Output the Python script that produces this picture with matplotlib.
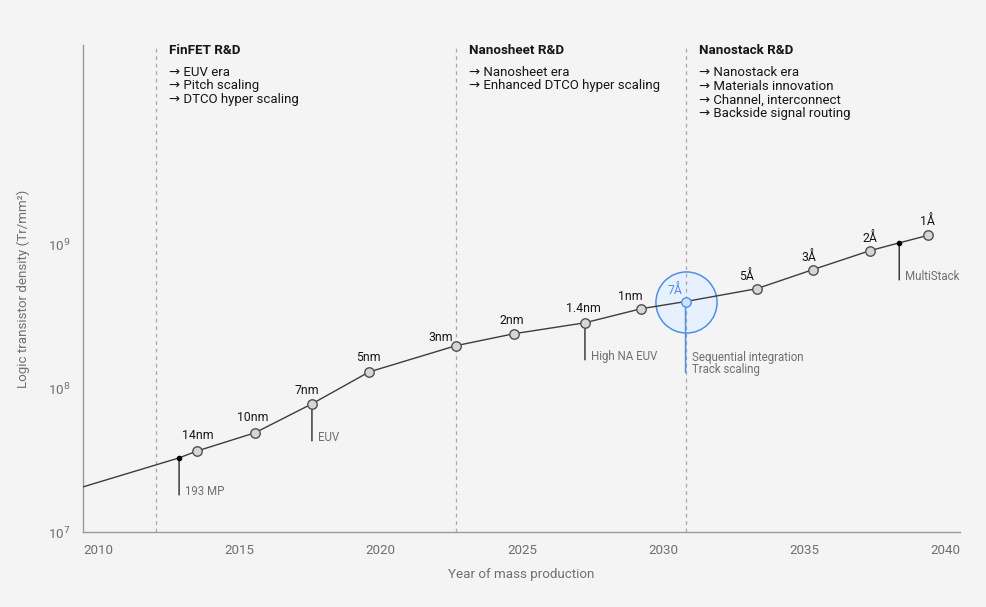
import matplotlib
matplotlib.use("Agg")
import matplotlib.pyplot as plt
from matplotlib.ticker import FixedLocator, NullLocator
from matplotlib.transforms import blended_transform_factory

plt.rcParams['font.family'] = ['Roboto', 'DejaVu Sans']

# ---------------- data ----------------
node_labels = ["14nm", "10nm", "7nm", "5nm", "3nm", "2nm", "1.4nm", "1nm",
               "7Å", "5Å", "3Å", "2Å", "1Å"]
node_years = [2013.50, 2015.55, 2017.57, 2019.59, 2022.66, 2024.72, 2027.23,
              2029.21, 2030.79, 2033.31, 2035.29, 2037.31, 2039.36]
node_density = [3.66e7, 4.9e7, 7.8e7, 1.30e8, 1.98e8, 2.40e8, 2.86e8,
                3.58e8, 4.02e8, 4.94e8, 6.7e8, 9.08e8, 1.16e9]

# milestones on the trend line (not nodes)
milestone_labels = ["193 MP", "MultiStack"]
milestone_years = [2012.87, 2038.35]
milestone_density = [3.28e7, 1.03e9]

# start of the trend line (left edge)
start_year = [2009.47]
start_density = [2.06e7]

# callouts hanging below points
callout_texts = ["193 MP", "EUV", "High NA EUV", "Sequential integration\nTrack scaling", "MultiStack"]
callout_years = [2012.87, 2017.57, 2027.23, 2030.79, 2038.35]
callout_density = [3.28e7, 7.8e7, 2.86e8, 4.02e8, 1.03e9]

# R&D eras
era_years = [2012.05, 2022.66, 2030.79]
era_titles = ["FinFET R&D", "Nanosheet R&D", "Nanostack R&D"]
era_items = [
    ["EUV era", "Pitch scaling", "DTCO hyper scaling"],
    ["Nanosheet era", "Enhanced DTCO hyper scaling"],
    ["Nanostack era", "Materials innovation", "Channel, interconnect", "Backside signal routing"],
]

x_ticks = [2010, 2015, 2020, 2025, 2030, 2035, 2040]
y_ticks = [1e7, 1e8, 1e9]
y_tick_labels = ["10$^7$", "10$^8$", "10$^9$"]

# ---------------- style ----------------
BG = "#f4f4f4"
DARK = "#161616"
GRAY = "#6f6f6f"
LINE = "#3d3d3d"
BLUE = "#4f8fe6"
BLUE_FILL = "#e6f1fd"

# label offsets in pixels (dx, dy)
label_offsets = {
    "14nm": (1, 16), "10nm": (-2, 15), "7nm": (-5, 13), "5nm": (-1, 14),
    "3nm": (-15, 8), "2nm": (-2, 13), "1.4nm": (-2, 14), "1nm": (-11, 12),
    "7Å": (-11, 11), "5Å": (-10, 12), "3Å": (-4, 12), "2Å": (0, 12), "1Å": (0, 14),
}
callout_len = [37, 37, 37, 71, 37]
callout_text_top = [27, 27, 27, 49, 27]

fig = plt.figure(figsize=(9.86, 6.07), dpi=100, facecolor=BG)
ax = fig.add_axes([83 / 986, 75 / 607, 877 / 986, 487 / 607], facecolor=BG)

ax.set_yscale("log")
ax.set_xlim(2009.47, 2040.5)
ax.set_ylim(1e7, 10 ** 10.39)

# era dashed lines
for x in era_years:
    ax.axvline(x, color="#a8a8a8", lw=0.9, ls=(0, (3, 3)), zorder=1)

# highlight circle around 7Å
i7 = node_labels.index("7Å")
ax.scatter([node_years[i7]], [node_density[i7]], s=44 ** 2, facecolor=BLUE_FILL,
           edgecolor=BLUE, linewidth=1.1, zorder=0.5)

# trend line
line_pts = sorted(zip(start_year + milestone_years + node_years,
                      start_density + milestone_density + node_density))
ax.plot([p[0] for p in line_pts], [p[1] for p in line_pts], color=LINE, lw=1.0,
        zorder=3, solid_capstyle="butt")

# milestone dots
ax.plot(milestone_years, milestone_density, "o", ms=3, color="#000000", zorder=4)

# node markers
for lab, x, y in zip(node_labels, node_years, node_density):
    is7 = lab == "7Å"
    ax.plot([x], [y], "o", ms=6.8, mfc=("#cfe2fb" if is7 else "#d6d6d6"),
            mec=(BLUE if is7 else "#505050"), mew=1.0, zorder=5)
    dx, dy = label_offsets[lab]
    ax.annotate(lab, (x, y), xytext=(dx, dy), textcoords="offset pixels",
                ha="center", va="center", fontsize=8.8,
                color=(BLUE if is7 else DARK), zorder=6)

# callouts
for txt, x, y, L, T in zip(callout_texts, callout_years, callout_density,
                           callout_len, callout_text_top):
    is7 = txt.startswith("Sequential")
    col = BLUE if is7 else "#3d3d3d"
    ax.annotate("", (x, y), xytext=(0, -L), textcoords="offset pixels",
                arrowprops=dict(arrowstyle="-", color=col, lw=1.1,
                                shrinkA=0, shrinkB=0), zorder=2)
    ax.annotate(txt, (x, y), xytext=(6, -T), textcoords="offset pixels",
                ha="left", va="top", fontsize=8.3, color=GRAY,
                linespacing=0.95, zorder=6)

# era headers
trans = blended_transform_factory(ax.transData, ax.transAxes)
for x, title, items in zip(era_years, era_titles, era_items):
    ax.annotate(title, (x, 1.0), xycoords=trans, xytext=(13, -5),
                textcoords="offset pixels", ha="left", va="center",
                fontsize=9.6, fontweight="bold", color=DARK)
    for k, it in enumerate(items):
        ax.annotate("→ " + it, (x, 1.0), xycoords=trans,
                    xytext=(13, -27 - 14 * k), textcoords="offset pixels",
                    ha="left", va="center", fontsize=9.5, color=DARK)

# axes styling
for s in ["top", "right"]:
    ax.spines[s].set_visible(False)
for s in ["left", "bottom"]:
    ax.spines[s].set_color("#9a9a9a")
    ax.spines[s].set_linewidth(1.0)

ax.xaxis.set_major_locator(FixedLocator(x_ticks))
ax.set_xticklabels([str(t) for t in x_ticks])
ax.yaxis.set_major_locator(FixedLocator(y_ticks))
ax.set_yticklabels(y_tick_labels)
ax.yaxis.set_minor_locator(NullLocator())
ax.tick_params(axis="both", length=0, colors=GRAY, labelsize=9.6)
ax.tick_params(axis="x", pad=8.5)
ax.tick_params(axis="y", pad=9)

ax.set_xlabel("Year of mass production", fontsize=9.6, color=GRAY, labelpad=8)
ax.set_ylabel("Logic transistor density (Tr/mm²)", fontsize=9.6, color=GRAY, labelpad=13)

fig.savefig("out.png", dpi=100, facecolor=BG)
